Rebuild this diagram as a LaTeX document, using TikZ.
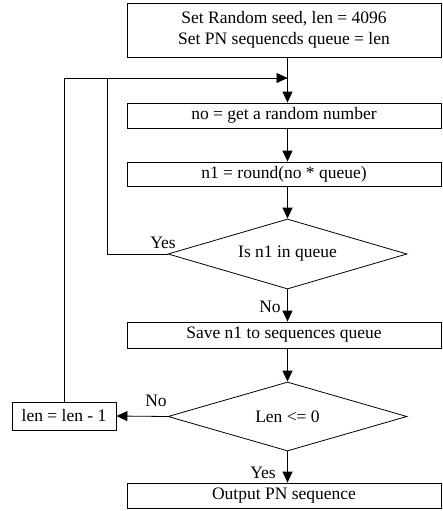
\documentclass[tikz,border=0pt]{standalone}
\usepackage{fontspec}
\setmainfont{Liberation Serif}
\usetikzlibrary{shapes.geometric,arrows.meta}
\tikzset{
	box/.style={draw, rectangle, minimum width=314pt, inner sep=0pt},
	decision/.style={draw, diamond, aspect=3.4, inner sep=0pt, minimum width=239pt, minimum height=70pt},
	flow/.style={-{Triangle[length=11pt,width=10pt]}},
	tag/.style={inner sep=0pt}
}
\begin{document}
\begin{tikzpicture}[x=1pt, y=-1pt, line width=0.8pt, font=\fontsize{17.5}{21}\selectfont]
				\useasboundingbox (0, 0) rectangle (442, 511);

				\node (Init) [box, minimum height=54pt, align=center] at (284, 30) {Set Random seed, len = 4096\\Set PN sequencds queue = len};
				\node (Rand) [box, minimum height=25pt] at (284, 115.5) {no = get a random number};
				\node (Round) [box, minimum height=24pt] at (284, 174) {n1 = round(no * queue)};
				\node (InQueue) [decision] at (287.5, 254) {Is n1 in queue};
				\node (Save) [box, minimum height=26pt] at (284, 335) {Save n1 to sequences queue};
				\node (LenCheck) [decision, minimum height=69pt] at (287.5, 416.5) {Len <= 0};
				\node (Dec) [draw, minimum width=104pt, minimum height=28pt, inner sep=0pt] at (64, 416) {len = len - 1};
				\node (Out) [box, minimum height=25pt] at (284, 495.5) {Output PN sequence};
				\coordinate (Merge) at (287.5, 78);

				\draw (Init.south -| InQueue) -- (Merge);
				\draw [flow] (Merge) -- (Rand.north -| InQueue);
				\draw [flow] (Rand.south -| InQueue) -- (Round.north -| InQueue);
				\draw [flow] (Round.south -| InQueue) -- (InQueue.north);

				\draw (InQueue.west) -- ++(-60, 0) |- (Merge);
				\node (YesQ) [tag] at (163, 243) {Yes};

				\draw [flow] (InQueue.south) -- (Save.north -| InQueue);
				\node (NoQ) [tag] at (270, 307) {No};

				\draw [flow] (Save.south -| InQueue) -- (LenCheck.north);

				\draw [flow] (LenCheck.west) -- (Dec.east);
				\node (NoL) [tag] at (156, 401) {No};
				\draw [flow] (Dec.north) |- (Merge);

				\draw [flow] (LenCheck.south) -- (Out.north -| InQueue);
				\node (YesL) [tag] at (263, 473) {Yes};
			\end{tikzpicture}
\end{document}
